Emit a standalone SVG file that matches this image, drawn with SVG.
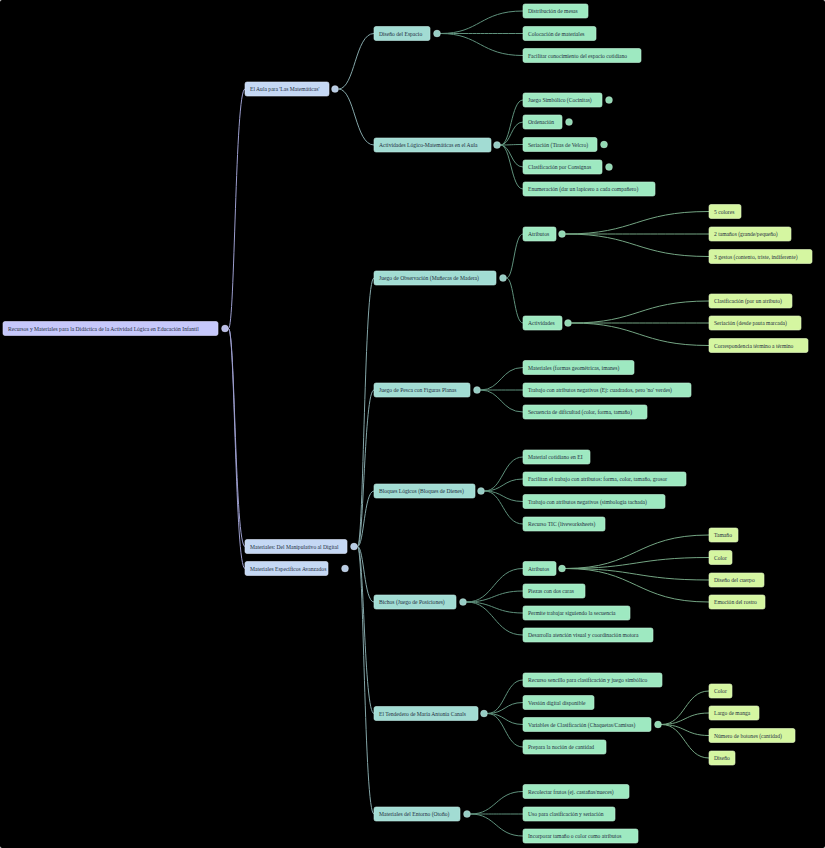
<svg xmlns="http://www.w3.org/2000/svg" width="825" height="848" viewBox="0 0 825 848">
<style>
rect{rx:2;ry:2;stroke-width:0.6}
.n0{fill:#c6c8fb;stroke:#dcdcff}
.n1{fill:#c5d8f4;stroke:#dde8fa}
.n2{fill:#a2dcd3;stroke:#c0ebe4}
.n3{fill:#9ee9c1;stroke:#bff3d8}
.n4{fill:#d5f6a1;stroke:#e6fbc4}
text{font-family:"Liberation Serif","Times New Roman",serif;font-size:5.6px;fill:#1f2f3f}
circle{stroke:#ffffff;stroke-opacity:0.35;stroke-width:0.6}
.c0{fill:#b9bce8}.c1{fill:#b7cbe4}.c2{fill:#96cdc4}.c3{fill:#92d9b3}
path{fill:none;stroke-width:1}
.e0{stroke:#9c9ece}.e1{stroke:#84a6a8}.e2{stroke:#5f917c}.e3{stroke:#74a583}
</style>
<rect width="825" height="848" fill="#000000"/>
<g id="connectors">
<path class="e0" d="M228.5 328.5C235 328.5 235 89 245 89"/>
<path class="e0" d="M228.5 328.5C235 328.5 235 546.5 245 546.5"/>
<path class="e0" d="M228.5 328.5C235 328.5 235 568.5 245 568.5"/>
<path class="e1" d="M338.5 89C355 89 355 33.5 374 33.5"/>
<path class="e1" d="M338.5 89C355 89 355 145 374 145"/>
<path class="e1" d="M357.5 546.5C364 546.5 364 278 374 278"/>
<path class="e1" d="M357.5 546.5C364 546.5 364 390 374 390"/>
<path class="e1" d="M357.5 546.5C364 546.5 364 491 374 491"/>
<path class="e1" d="M357.5 546.5C364 546.5 364 602 374 602"/>
<path class="e1" d="M357.5 546.5C364 546.5 364 713.5 374 713.5"/>
<path class="e1" d="M357.5 546.5C364 546.5 364 814 374 814"/>
<path class="e2" d="M440.5 33.5C480 33.5 480 11 523 11"/>
<path class="e2" d="M440.5 33.5C480 33.5 480 33.5 523 33.5"/>
<path class="e2" d="M440.5 33.5C480 33.5 480 55.5 523 55.5"/>
<path class="e2" d="M500.5 145C511 145 511 100 523 100"/>
<path class="e2" d="M500.5 145C511 145 511 122 523 122"/>
<path class="e2" d="M500.5 145C511 145 511 144.5 523 144.5"/>
<path class="e2" d="M500.5 145C511 145 511 167 523 167"/>
<path class="e2" d="M500.5 145C511 145 511 189 523 189"/>
<path class="e2" d="M506.5 278C514 278 514 234 523 234"/>
<path class="e2" d="M506.5 278C514 278 514 323 523 323"/>
<path class="e3" d="M565.5 234C636 234 636 211.5 709 211.5"/>
<path class="e3" d="M565.5 234C636 234 636 234 709 234"/>
<path class="e3" d="M565.5 234C636 234 636 256.5 709 256.5"/>
<path class="e3" d="M571.5 323C639 323 639 301 709 301"/>
<path class="e3" d="M571.5 323C639 323 639 323 709 323"/>
<path class="e3" d="M571.5 323C639 323 639 345.5 709 345.5"/>
<path class="e2" d="M480.5 390C501 390 501 367.5 523 367.5"/>
<path class="e2" d="M480.5 390C501 390 501 390 523 390"/>
<path class="e2" d="M480.5 390C501 390 501 412 523 412"/>
<path class="e2" d="M484.5 491C503 491 503 457 523 457"/>
<path class="e2" d="M484.5 491C503 491 503 479 523 479"/>
<path class="e2" d="M484.5 491C503 491 503 501.5 523 501.5"/>
<path class="e2" d="M484.5 491C503 491 503 524 523 524"/>
<path class="e2" d="M466.5 602C494 602 494 568.5 523 568.5"/>
<path class="e2" d="M466.5 602C494 602 494 591 523 591"/>
<path class="e2" d="M466.5 602C494 602 494 613 523 613"/>
<path class="e2" d="M466.5 602C494 602 494 635 523 635"/>
<path class="e3" d="M565.5 568.5C636 568.5 636 535 709 535"/>
<path class="e3" d="M565.5 568.5C636 568.5 636 557.5 709 557.5"/>
<path class="e3" d="M565.5 568.5C636 568.5 636 580 709 580"/>
<path class="e3" d="M565.5 568.5C636 568.5 636 602 709 602"/>
<path class="e2" d="M487.5 713.5C505 713.5 505 680 523 680"/>
<path class="e2" d="M487.5 713.5C505 713.5 505 702.5 523 702.5"/>
<path class="e2" d="M487.5 713.5C505 713.5 505 724.5 523 724.5"/>
<path class="e2" d="M487.5 713.5C505 713.5 505 747 523 747"/>
<path class="e3" d="M661.5 724.5C685 724.5 685 691 709 691"/>
<path class="e3" d="M661.5 724.5C685 724.5 685 713 709 713"/>
<path class="e3" d="M661.5 724.5C685 724.5 685 735.5 709 735.5"/>
<path class="e3" d="M661.5 724.5C685 724.5 685 758 709 758"/>
<path class="e2" d="M470.5 814C496 814 496 791.5 523 791.5"/>
<path class="e2" d="M470.5 814C496 814 496 814 523 814"/>
<path class="e2" d="M470.5 814C496 814 496 836 523 836"/>
</g>
<g id="root"><rect class="n0" x="3" y="321.5" width="215" height="14"/><text x="8" y="330.5">Recursos y Materiales para la Didáctica de la Actividad Lógica en Educación Infantil</text><circle class="c0" cx="225" cy="328.5" r="3.5"/></g>
<g id="aula"><rect class="n1" x="245" y="82" width="84" height="14"/><text x="250" y="91">El Aula para 'Las Matemáticas'</text><circle class="c1" cx="335" cy="89" r="3.5"/></g>
<g id="materiales"><rect class="n1" x="245" y="539.5" width="102" height="14"/><text x="250" y="548.5">Materiales: Del Manipulativo al Digital</text><circle class="c1" cx="354" cy="546.5" r="3.5"/></g>
<g id="avanzados"><rect class="n1" x="245" y="561.5" width="83" height="14"/><text x="250" y="570.5">Materiales Específicos Avanzados</text><circle class="c1" cx="345" cy="568.5" r="3.5"/></g>
<g id="diseno"><rect class="n2" x="374" y="26.5" width="56" height="14"/><text x="379" y="35.5">Diseño del Espacio</text><circle class="c2" cx="437" cy="33.5" r="3.5"/></g>
<g id="actividades"><rect class="n2" x="374" y="138" width="117" height="14"/><text x="379" y="147">Actividades Lógico-Matemáticas en el Aula</text><circle class="c2" cx="497" cy="145" r="3.5"/></g>
<g id="dist"><rect class="n3" x="523" y="4" width="65" height="14"/><text x="528" y="13">Distribución de mesas</text></g>
<g id="coloc"><rect class="n3" x="523" y="26.5" width="73" height="14"/><text x="528" y="35.5">Colocación de materiales</text></g>
<g id="facil"><rect class="n3" x="523" y="48.5" width="118" height="14"/><text x="528" y="57.5">Facilitar conocimiento del espacio cotidiano</text></g>
<g id="simbolico"><rect class="n3" x="523" y="93" width="79" height="14"/><text x="528" y="102">Juego Simbólico (Cocinitas)</text><circle class="c3" cx="609" cy="100" r="3.5"/></g>
<g id="ordenacion"><rect class="n3" x="523" y="115" width="39" height="14"/><text x="528" y="124">Ordenación</text><circle class="c3" cx="569" cy="122" r="3.5"/></g>
<g id="seriacion"><rect class="n3" x="523" y="137.5" width="74" height="14"/><text x="528" y="146.5">Seriación (Tiras de Velcro)</text><circle class="c3" cx="604" cy="144.5" r="3.5"/></g>
<g id="consignas"><rect class="n3" x="523" y="160" width="79" height="14"/><text x="528" y="169">Clasificación por Consignas</text><circle class="c3" cx="609" cy="167" r="3.5"/></g>
<g id="enumeracion"><rect class="n3" x="523" y="182" width="132" height="14"/><text x="528" y="191">Enumeración (dar un lapicero a cada compañero)</text></g>
<g id="observacion"><rect class="n2" x="374" y="271" width="122" height="14"/><text x="379" y="280">Juego de Observación (Muñecas de Madera)</text><circle class="c2" cx="503" cy="278" r="3.5"/></g>
<g id="atributos1"><rect class="n3" x="523" y="227" width="33" height="14"/><text x="528" y="236">Atributos</text><circle class="c3" cx="562" cy="234" r="3.5"/></g>
<g id="actividades2"><rect class="n3" x="523" y="316" width="39" height="14"/><text x="528" y="325">Actividades</text><circle class="c3" cx="568" cy="323" r="3.5"/></g>
<g id="colores5"><rect class="n4" x="709" y="204.5" width="32" height="14"/><text x="714" y="213.5">5 colores</text></g>
<g id="tamanos2"><rect class="n4" x="709" y="227" width="82" height="14"/><text x="714" y="236">2 tamaños (grande/pequeño)</text></g>
<g id="gestos3"><rect class="n4" x="709" y="249.5" width="103" height="14"/><text x="714" y="258.5">3 gestos (contento, triste, indiferente)</text></g>
<g id="clasatrib"><rect class="n4" x="709" y="294" width="83" height="14"/><text x="714" y="303">Clasificación (por un atributo)</text></g>
<g id="serpauta"><rect class="n4" x="709" y="316" width="92" height="14"/><text x="714" y="325">Seriación (desde pauta marcada)</text></g>
<g id="corresp"><rect class="n4" x="709" y="338.5" width="99" height="14"/><text x="714" y="347.5">Correspondencia término a término</text></g>
<g id="pesca"><rect class="n2" x="374" y="383" width="96" height="14"/><text x="379" y="392">Juego de Pesca con Figuras Planas</text><circle class="c2" cx="477" cy="390" r="3.5"/></g>
<g id="matformas"><rect class="n3" x="523" y="360.5" width="111" height="14"/><text x="528" y="369.5">Materiales (formas geométricas, imanes)</text></g>
<g id="trabneg"><rect class="n3" x="523" y="383" width="168" height="14"/><text x="528" y="392">Trabajo con atributos negativos (Ej: cuadrados, pero 'no' verdes)</text></g>
<g id="secuencia"><rect class="n3" x="523" y="405" width="124" height="14"/><text x="528" y="414">Secuencia de dificultad (color, forma, tamaño)</text></g>
<g id="bloques"><rect class="n2" x="374" y="484" width="101" height="14"/><text x="379" y="493">Bloques Lógicos (Bloques de Dienes)</text><circle class="c2" cx="481" cy="491" r="3.5"/></g>
<g id="matcot"><rect class="n3" x="523" y="450" width="67" height="14"/><text x="528" y="459">Material cotidiano en EI</text></g>
<g id="facilitan"><rect class="n3" x="523" y="472" width="163" height="14"/><text x="528" y="481">Facilitan el trabajo con atributos: forma, color, tamaño, grosor</text></g>
<g id="tachada"><rect class="n3" x="523" y="494.5" width="142" height="14"/><text x="528" y="503.5">Trabajo con atributos negativos (simbología tachada)</text></g>
<g id="tic"><rect class="n3" x="523" y="517" width="82" height="14"/><text x="528" y="526">Recurso TIC (liveworksheets)</text></g>
<g id="bichos"><rect class="n2" x="374" y="595" width="82" height="14"/><text x="379" y="604">Bichos (Juego de Posiciones)</text><circle class="c2" cx="463" cy="602" r="3.5"/></g>
<g id="atributos2"><rect class="n3" x="523" y="561.5" width="33" height="14"/><text x="528" y="570.5">Atributos</text><circle class="c3" cx="562" cy="568.5" r="3.5"/></g>
<g id="piezas"><rect class="n3" x="523" y="584" width="62" height="14"/><text x="528" y="593">Piezas con dos caras</text></g>
<g id="permite"><rect class="n3" x="523" y="606" width="107" height="14"/><text x="528" y="615">Permite trabajar siguiendo la secuencia</text></g>
<g id="desarrolla"><rect class="n3" x="523" y="628" width="130" height="14"/><text x="528" y="637">Desarrolla atención visual y coordinación motora</text></g>
<g id="tamano"><rect class="n4" x="709" y="528" width="29" height="14"/><text x="714" y="537">Tamaño</text></g>
<g id="color1"><rect class="n4" x="709" y="550.5" width="23" height="14"/><text x="714" y="559.5">Color</text></g>
<g id="cuerpo"><rect class="n4" x="709" y="573" width="55" height="14"/><text x="714" y="582">Diseño del cuerpo</text></g>
<g id="emocion"><rect class="n4" x="709" y="595" width="56" height="14"/><text x="714" y="604">Emoción del rostro</text></g>
<g id="tendedero"><rect class="n2" x="374" y="706.5" width="104" height="14"/><text x="379" y="715.5">El Tendedero de María Antonia Canals</text><circle class="c2" cx="484" cy="713.5" r="3.5"/></g>
<g id="recurso"><rect class="n3" x="523" y="673" width="139" height="14"/><text x="528" y="682">Recurso sencillo para clasificación y juego simbólico</text></g>
<g id="version"><rect class="n3" x="523" y="695.5" width="71" height="14"/><text x="528" y="704.5">Versión digital disponible</text></g>
<g id="variables"><rect class="n3" x="523" y="717.5" width="128" height="14"/><text x="528" y="726.5">Variables de Clasificación (Chaquetas/Camisas)</text><circle class="c3" cx="658" cy="724.5" r="3.5"/></g>
<g id="prepara"><rect class="n3" x="523" y="740" width="83" height="14"/><text x="528" y="749">Prepara la noción de cantidad</text></g>
<g id="color2"><rect class="n4" x="709" y="684" width="23" height="14"/><text x="714" y="693">Color</text></g>
<g id="largo"><rect class="n4" x="709" y="706" width="50" height="14"/><text x="714" y="715">Largo de manga</text></g>
<g id="botones"><rect class="n4" x="709" y="728.5" width="86" height="14"/><text x="714" y="737.5">Número de botones (cantidad)</text></g>
<g id="diseno2"><rect class="n4" x="709" y="751" width="26" height="14"/><text x="714" y="760">Diseño</text></g>
<g id="entorno"><rect class="n2" x="374" y="807" width="86" height="14"/><text x="379" y="816">Materiales del Entorno (Otoño)</text><circle class="c2" cx="467" cy="814" r="3.5"/></g>
<g id="recolectar"><rect class="n3" x="523" y="784.5" width="106" height="14"/><text x="528" y="793.5">Recolectar frutos (ej. castañas/nueces)</text></g>
<g id="uso"><rect class="n3" x="523" y="807" width="92" height="14"/><text x="528" y="816">Uso para clasificación y seriación</text></g>
<g id="incorporar"><rect class="n3" x="523" y="829" width="115" height="14"/><text x="528" y="838">Incorporar tamaño o color como atributos</text></g>
</svg>
